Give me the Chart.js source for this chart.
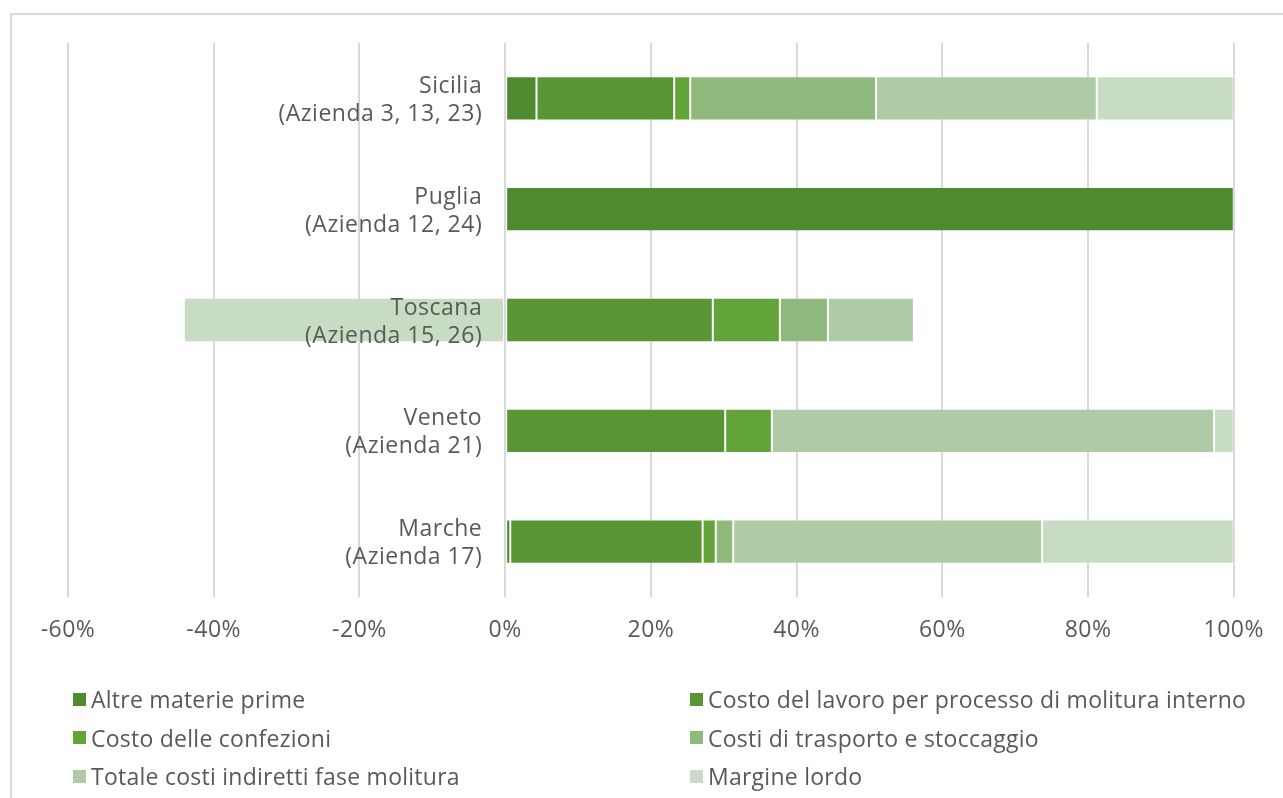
<!DOCTYPE html>
<html>
<head>
<meta charset="utf-8">
<script src="https://cdn.jsdelivr.net/npm/chart.js@4/dist/chart.umd.min.js"></script>
<style>
  html, body { margin: 0; padding: 0; background: #fff; overflow: hidden; }
  #frame {
    position: absolute; left: 10px; top: 13px; width: 1300px; height: 820px;
    border: 2px solid #d9d9d9; box-sizing: border-box;
  }
  #chart { position: absolute; left: 0; top: 0; }
  #legend {
    position: absolute; left: 73px; top: 680px; width: 1210px;
    display: grid; grid-template-columns: 617px auto; row-gap: 0;
    font-family: 'Open Sans', sans-serif; font-size: 23px; letter-spacing: 0.25px; color: #595959;
  }
  .item { display: flex; align-items: center; height: 38.5px; white-space: nowrap; }
  .swatch { width: 13px; height: 13px; margin-right: 5px; flex: none; }
</style>
</head>
<body>
<div id="frame"></div>
<canvas id="chart" width="1283" height="798"></canvas>
<div id="legend"></div>
<script>
const categories = [
  ['Sicilia', '(Azienda 3, 13, 23)'],
  ['Puglia', '(Azienda 12, 24)'],
  ['Toscana', '(Azienda 15, 26)'],
  ['Veneto', '(Azienda 21)'],
  ['Marche', '(Azienda 17)'],
];
const seriesNames = [
  'Altre materie prime',
  'Costo del lavoro per processo di molitura interno',
  'Costo delle confezioni',
  'Costi di trasporto e stoccaggio',
  'Totale costi indiretti fase molitura',
  'Margine lordo',
];
const altreMateriePrime = [4.3, 100, 0, 0, 0.7];
const costoLavoro = [18.9, 0, 28.5, 30.2, 26.4];
const costoConfezioni = [2.2, 0, 9.2, 6.4, 1.8];
const costiTrasporto = [25.5, 0, 6.6, 0, 2.4];
const costiIndiretti = [30.3, 0, 11.8, 60.7, 42.4];
const margineLordo = [18.8, 0, -44.1, 2.7, 26.3];
const xTicks = [-60, -40, -20, 0, 20, 40, 60, 80, 100];

const seriesValues = [altreMateriePrime, costoLavoro, costoConfezioni, costiTrasporto, costiIndiretti, margineLordo];
const seriesColors = ['#4e8a2e', '#5a9534', '#62a439', '#8fb97d', '#afcba6', '#c8dbc3'];
const textColor = '#595959';
const fontFamily = "'Open Sans', sans-serif";

// widen canvas text a little, like the original font
const textSpacing = {
  id: 'textSpacing',
  beforeDraw(chart) {
    chart.ctx.letterSpacing = '0.5px';
  },
};

const categoryLabels = {
  id: 'categoryLabels',
  afterDatasetsDraw(chart) {
    const { ctx, scales } = chart;
    const x0 = scales.x.getPixelForValue(0) - 23;
    ctx.save();
    ctx.font = `23px ${fontFamily}`;
    ctx.fillStyle = textColor;
    ctx.textAlign = 'right';
    ctx.textBaseline = 'middle';
    categories.forEach((lines, i) => {
      const yc = scales.y.getPixelForValue(i);
      ctx.fillText(lines[0], x0, yc - 12);
      ctx.fillText(lines[1], x0, yc + 16);
    });
    ctx.restore();
  },
};

const chart = new Chart(document.getElementById('chart').getContext('2d'), {
  type: 'bar',
  data: {
    labels: categories.map((c) => c.join(' ')),
    datasets: seriesNames.map((name, i) => ({
      label: name,
      data: seriesValues[i],
      backgroundColor: seriesColors[i],
      borderColor: 'rgba(255,255,255,0.2)',
      borderWidth: 1,
      borderSkipped: false,
      categoryPercentage: 1,
      barPercentage: 0.4,
    })),
  },
  options: {
    indexAxis: 'y',
    responsive: false,
    animation: false,
    layout: { padding: { left: 68, right: 48, top: 43, bottom: 141 } },
    plugins: {
      legend: { display: false },
      tooltip: { enabled: false },
    },
    scales: {
      x: {
        stacked: true,
        min: -60,
        max: 100,
        afterBuildTicks: (scale) => { scale.ticks = xTicks.map((v) => ({ value: v })); },
        afterFit: (scale) => { scale.height = 60; },
        ticks: {
          color: textColor,
          font: { family: fontFamily, size: 23 },
          padding: 20,
          maxRotation: 0,
          callback: (value) => `${value}%`,
        },
        grid: { color: '#d9d9d9', lineWidth: 2, drawTicks: false },
        border: { display: false },
      },
      y: {
        stacked: true,
        display: true,
        ticks: { display: false },
        grid: { display: false },
        border: { display: false },
        afterFit: (scale) => { scale.width = 0; },
      },
    },
  },
  plugins: [textSpacing, categoryLabels],
});

const legendEl = document.getElementById('legend');
seriesNames.forEach((name, i) => {
  const item = document.createElement('div');
  item.className = 'item';
  const sw = document.createElement('span');
  sw.className = 'swatch';
  sw.style.background = seriesColors[i];
  const label = document.createElement('span');
  label.textContent = name;
  item.appendChild(sw);
  item.appendChild(label);
  legendEl.appendChild(item);
});
</script>
</body>
</html>
